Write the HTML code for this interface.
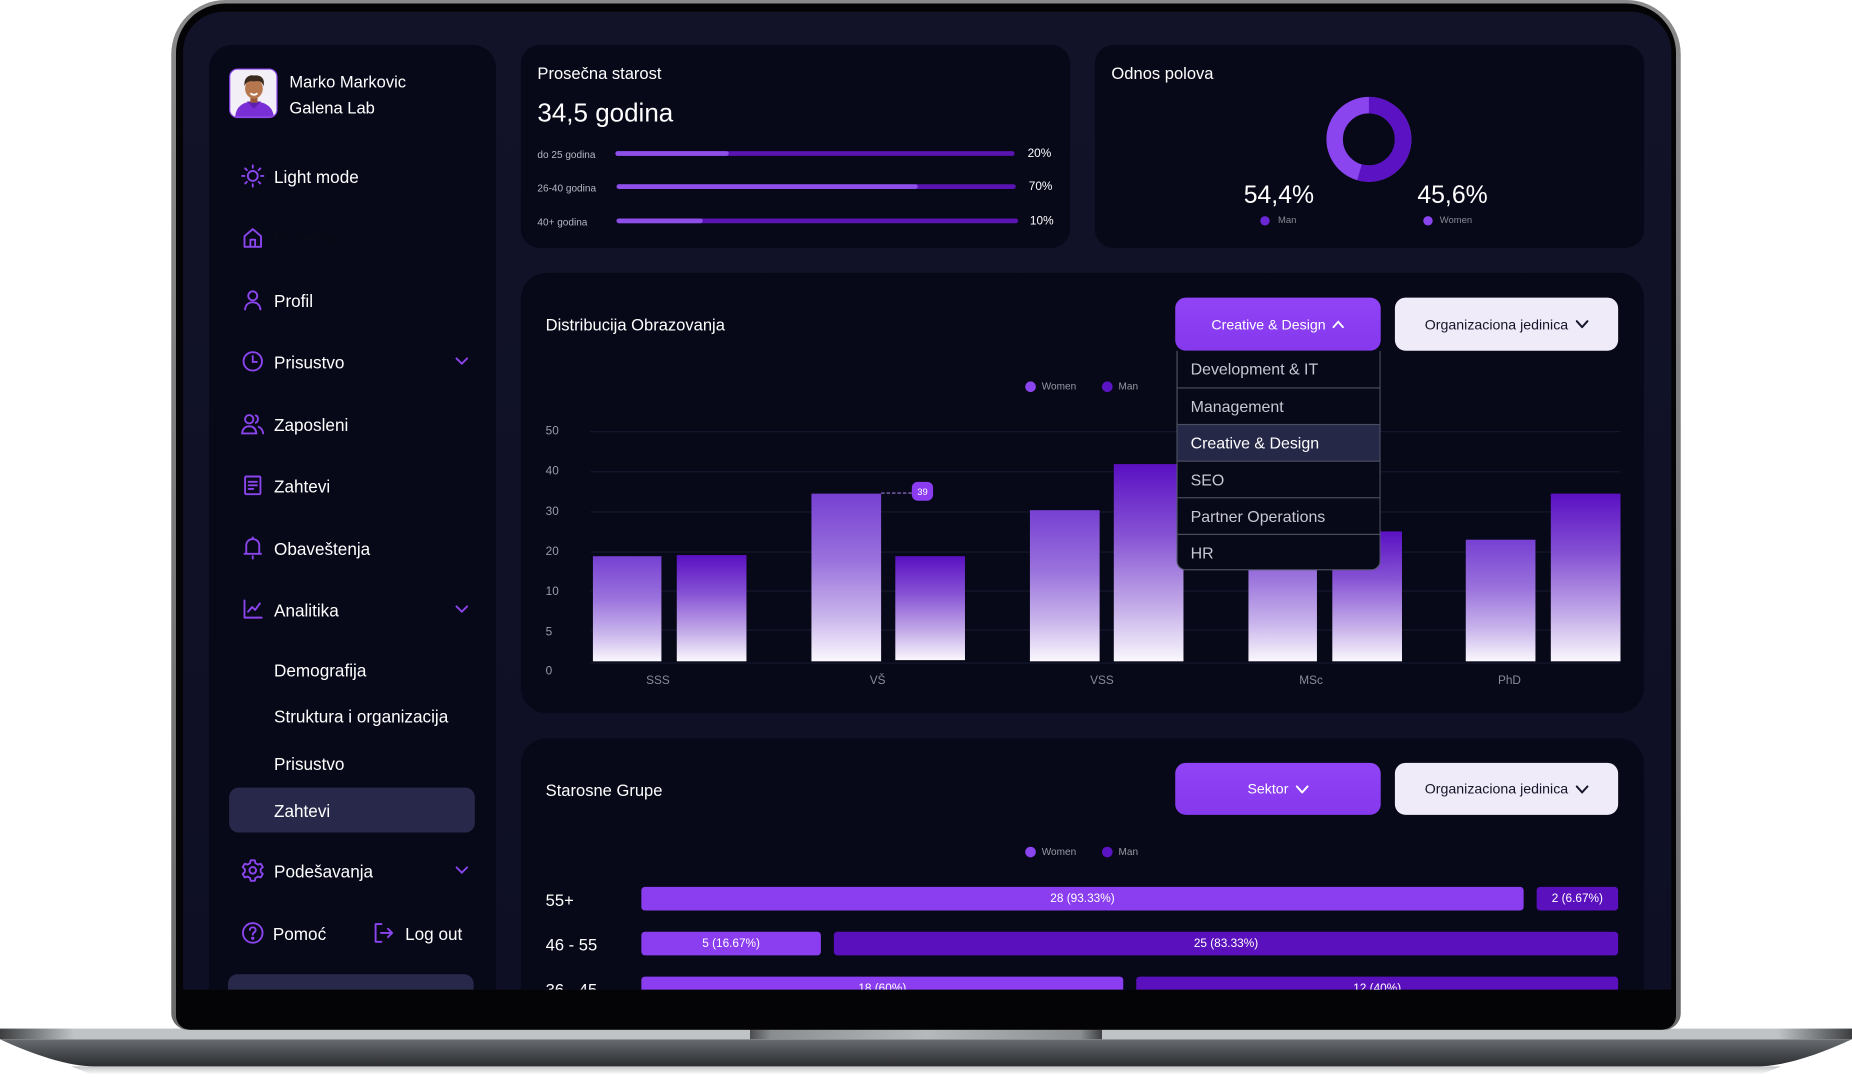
<!DOCTYPE html>
<html><head><meta charset="utf-8">
<style>
*{margin:0;padding:0;box-sizing:border-box}
html,body{width:1852px;height:1077px;overflow:hidden;background:#fff}
body{font-family:"Liberation Sans",Arial,sans-serif}
#wrap{position:absolute;left:0;top:0;width:1568px;height:912px;transform:scale(1.18112,1.18092);transform-origin:0 0}
.a{position:absolute}
.t{position:absolute;white-space:nowrap;line-height:1;color:#fff}
.card{position:absolute;background:#070818}
.btnp{position:absolute;background:linear-gradient(#9044f6,#8638ec);border-radius:9px;color:#fff;font-size:12px;display:flex;align-items:center;justify-content:center;gap:6px}
.btnl{position:absolute;background:#efebf9;border-radius:9px;color:#15152a;font-size:12px;display:flex;align-items:center;justify-content:center;gap:6px}
.bar{position:absolute}
.w{background:linear-gradient(to bottom,#7640d2 0%,#9a72dc 40%,#cab6ec 74%,#faf8fd 100%)}
.m{background:linear-gradient(to bottom,#5a10c2 0%,#8652d4 36%,#c3abe8 72%,#faf8fd 100%)}
.grid{position:absolute;left:500px;width:872px;height:1px;background:#16182e}
.yl{position:absolute;left:462px;font-size:10px;color:#9a9aa8;line-height:1}
.xl{position:absolute;font-size:10px;color:#8a8a98;line-height:1;transform:translateX(-50%)}
.hb{position:absolute;height:20px;border-radius:3px;color:#fff;font-size:10px;display:flex;align-items:center;justify-content:center}
.hw{background:#8a3ef0}
.hm{background:#5a10bc}
.dd{position:absolute;left:0;width:171px;height:31px;font-size:13.5px;color:#c8c8d2;padding-left:11px;display:flex;align-items:center;border-top:1.5px solid #4b4e60}
.ic{position:absolute}
</style></head><body>
<div id="wrap">
<!-- base -->
<svg class="a" style="left:0;top:860px" width="1568" height="52" viewBox="0 860 1568 52">
<defs>
<linearGradient id="bd" x1="0" y1="0" x2="0" y2="1"><stop offset="0" stop-color="#686c70"/><stop offset="1" stop-color="#2a2c2f"/></linearGradient>
<linearGradient id="bl" x1="0" y1="0" x2="1" y2="0"><stop offset="0" stop-color="#3c3e40"/><stop offset="0.04" stop-color="#bfc3c6"/><stop offset="0.96" stop-color="#bfc3c6"/><stop offset="1" stop-color="#3c3e40"/></linearGradient>
<linearGradient id="nt" x1="0" y1="0" x2="1" y2="0"><stop offset="0" stop-color="#4a4c4f"/><stop offset="0.06" stop-color="#8a8d90"/><stop offset="0.5" stop-color="#b5b9bb"/><stop offset="0.94" stop-color="#8a8d90"/><stop offset="1" stop-color="#3c3e40"/></linearGradient>
<linearGradient id="sh" x1="0" y1="0" x2="0" y2="1"><stop offset="0" stop-color="#9a9c9e"/><stop offset="1" stop-color="#ffffff"/></linearGradient>
</defs>
<path d="M60 903 L1508 903 L1490 910 L78 910 Z" fill="url(#sh)" opacity="0.6"/>
<path d="M0 880 L1568 880 C1540 893 1510 903 1488 903 L80 903 C58 903 28 893 0 880 Z" fill="url(#bd)"/>
<rect x="0" y="871" width="1568" height="9" fill="url(#bl)"/>
<rect x="635" y="871" width="298" height="9" fill="url(#nt)"/>
</svg>
<!-- laptop lid -->
<div class="a" style="left:145px;top:0;width:1278px;height:872px;border-radius:46px 46px 14px 14px;background:linear-gradient(#8a8a8a,#6a6a6a)"></div>
<div class="a" style="left:149px;top:3px;width:1270px;height:869px;border-radius:42px 42px 12px 12px;background:#040406"></div>
<!-- screen -->
<div class="a" style="left:155px;top:10px;width:1260px;height:828px;border-radius:34px 34px 0 0;overflow:hidden;background:linear-gradient(#121329,#0e0f25)">
<div class="a" style="left:-155px;top:-10px;width:1568px;height:912px">

<!-- sidebar -->
<div class="card" style="left:177px;top:38px;width:243px;height:840px;border-radius:20px"></div>
<div class="a" style="left:194px;top:58px;width:41px;height:42px;border-radius:7px;border:1.5px solid #8b45ee;background:#f3eff6;overflow:hidden">
<svg width="41" height="42" viewBox="0 0 41 42">
<path d="M4 42 C4 32 10 27 20 27 C30 27 37 32 37 42 Z" fill="#7a2fd6"/>
<path d="M14 27 L20 33 L26 27 Z" fill="#5e1fb0"/>
<rect x="17" y="22" width="6" height="6" fill="#9a5a38"/>
<ellipse cx="20" cy="16" rx="7.5" ry="8.5" fill="#b6764e"/>
<path d="M12 14 C11 6 17 4 20 5 C25 4 30 7 28 14 C27 10 24 9 20 10 C16 9 13 11 12 14 Z" fill="#3a2a1e"/>
<path d="M17 20 Q20 22.5 23 20" stroke="#fff" stroke-width="1.5" fill="none"/>
</svg></div>
<div class="t" style="left:245px;top:62px;font-size:14px">Marko Markovic</div>
<div class="t" style="left:245px;top:84px;font-size:14px">Galena Lab</div>

<!-- icons -->
<svg class="ic" style="left:204px;top:139px" width="20" height="20" viewBox="0 0 20 20" fill="none" stroke="#8b45ee" stroke-width="1.6" stroke-linecap="round"><circle cx="10" cy="10" r="4.2"/><path d="M10 1v2M10 17v2M1 10h2M17 10h2M3.6 3.6l1.4 1.4M15 15l1.4 1.4M3.6 16.4l1.4-1.4M15 5l1.4-1.4"/></svg>
<div class="t" style="left:232px;top:144px;font-size:14.5px">Light mode</div>
<svg class="ic" style="left:205px;top:192px" width="18" height="18" viewBox="0 0 18 18" fill="none" stroke="#8b45ee" stroke-width="1.6" stroke-linejoin="round"><path d="M2 8 L9 2 L16 8 V17 H2 Z"/><path d="M7 17 V11 H11 V17"/></svg>
<div class="t" style="left:232px;top:196px;font-size:14.5px;color:#0b0b16">Početna</div>
<svg class="ic" style="left:205px;top:245px" width="18" height="18" viewBox="0 0 18 18" fill="none" stroke="#8b45ee" stroke-width="1.6" stroke-linecap="round"><circle cx="9" cy="5.5" r="3.8"/><path d="M2.5 17 C3 12.5 6 11 9 11 C12 11 15 12.5 15.5 17"/></svg>
<div class="t" style="left:232px;top:249px;font-size:14.5px">Profil</div>
<svg class="ic" style="left:205px;top:297px" width="18" height="18" viewBox="0 0 18 18" fill="none" stroke="#8b45ee" stroke-width="1.6" stroke-linecap="round"><circle cx="9" cy="9" r="7.8"/><path d="M9 4.5 V9.5 H12.5"/></svg>
<div class="t" style="left:232px;top:301px;font-size:14.5px">Prisustvo</div>
<svg class="ic" style="left:385px;top:302px" width="12" height="8" viewBox="0 0 12 8" fill="none" stroke="#8b45ee" stroke-width="1.6" stroke-linecap="round"><path d="M1.5 1.5 L6 6 L10.5 1.5"/></svg>
<svg class="ic" style="left:204px;top:350px" width="20" height="18" viewBox="0 0 20 18" fill="none" stroke="#8b45ee" stroke-width="1.6" stroke-linecap="round"><circle cx="7" cy="5" r="3.5"/><path d="M1 17 C1.5 12.5 4 11 7 11 C10 11 12.5 12.5 13 17 Z"/><path d="M12.5 1.8 C15 2.5 15 7 12.5 8"/><path d="M15 11.5 C17.5 12.5 18.5 14.5 18.8 17"/></svg>
<div class="t" style="left:232px;top:354px;font-size:14.5px">Zaposleni</div>
<svg class="ic" style="left:205px;top:402px" width="18" height="18" viewBox="0 0 18 18" fill="none" stroke="#8b45ee" stroke-width="1.6" stroke-linecap="round"><rect x="2.5" y="1.5" width="13" height="15" rx="1"/><path d="M5.5 6h7M5.5 9h7M5.5 12h4"/></svg>
<div class="t" style="left:232px;top:406px;font-size:14.5px">Zahtevi</div>
<svg class="ic" style="left:205px;top:454px" width="18" height="20" viewBox="0 0 18 20" fill="none" stroke="#8b45ee" stroke-width="1.6" stroke-linecap="round" stroke-linejoin="round"><path d="M3.5 15 V8 C3.5 4.5 6 2.5 9 2.5 C12 2.5 14.5 4.5 14.5 8 V15 H3.5 Z M2 15 H16"/><path d="M9 1 V2.5 M9 17 V19"/></svg>
<div class="t" style="left:232px;top:459px;font-size:14.5px">Obaveštenja</div>
<svg class="ic" style="left:205px;top:507px" width="18" height="18" viewBox="0 0 18 18" fill="none" stroke="#8b45ee" stroke-width="1.6" stroke-linecap="round" stroke-linejoin="round"><path d="M2 1.5 V16 H16.5"/><path d="M5 11 L8.5 7 L11 9.5 L15 4"/></svg>
<div class="t" style="left:232px;top:511px;font-size:14.5px">Analitika</div>
<svg class="ic" style="left:385px;top:512px" width="12" height="8" viewBox="0 0 12 8" fill="none" stroke="#8b45ee" stroke-width="1.6" stroke-linecap="round"><path d="M1.5 1.5 L6 6 L10.5 1.5"/></svg>
<div class="t" style="left:232px;top:562px;font-size:14.5px">Demografija</div>
<div class="t" style="left:232px;top:601px;font-size:14.5px">Struktura i organizacija</div>
<div class="t" style="left:232px;top:641px;font-size:14.5px">Prisustvo</div>
<div class="a" style="left:194px;top:667px;width:208px;height:38px;border-radius:8px;background:#27284a"></div>
<div class="t" style="left:232px;top:681px;font-size:14.5px">Zahtevi</div>
<svg class="ic" style="left:204px;top:727px" width="20" height="20" viewBox="0 0 20 20" fill="none" stroke="#8b45ee" stroke-width="1.6" stroke-linejoin="round"><path d="M8.3 1.5h3.4l.6 2.4 2.1 1.2 2.4-.7 1.7 2.9-1.8 1.7v2.4l1.8 1.7-1.7 2.9-2.4-.7-2.1 1.2-.6 2.4H8.3l-.6-2.4-2.1-1.2-2.4.7-1.7-2.9 1.8-1.7V9l-1.8-1.7 1.7-2.9 2.4.7 2.1-1.2z"/><circle cx="10" cy="10" r="2.8"/></svg>
<div class="t" style="left:232px;top:732px;font-size:14.5px">Podešavanja</div>
<svg class="ic" style="left:385px;top:733px" width="12" height="8" viewBox="0 0 12 8" fill="none" stroke="#8b45ee" stroke-width="1.6" stroke-linecap="round"><path d="M1.5 1.5 L6 6 L10.5 1.5"/></svg>
<svg class="ic" style="left:204px;top:780px" width="20" height="20" viewBox="0 0 20 20" fill="none" stroke="#8b45ee" stroke-width="1.6" stroke-linecap="round"><circle cx="10" cy="10" r="8.3"/><path d="M7.5 7.5 C7.5 4.5 12.5 4.5 12.5 7.5 C12.5 9.5 10 9.5 10 11.5"/><circle cx="10" cy="14.5" r="0.6" fill="#8b45ee"/></svg>
<div class="t" style="left:231px;top:785px;font-size:14.5px">Pomoć</div>
<svg class="ic" style="left:316px;top:781px" width="18" height="18" viewBox="0 0 18 18" fill="none" stroke="#8b45ee" stroke-width="1.6" stroke-linecap="round" stroke-linejoin="round"><path d="M7 1.5 H2 V16.5 H7"/><path d="M6.5 9 H16 M12.5 5.5 L16 9 L12.5 12.5"/></svg>
<div class="t" style="left:343px;top:785px;font-size:14.5px">Log out</div>
<div class="a" style="left:193px;top:825px;width:208px;height:40px;border-radius:8px;background:#27284a"></div>

<!-- top-left card -->
<div class="card" style="left:441px;top:38px;width:465px;height:172px;border-radius:16px"></div>
<div class="t" style="left:455px;top:55px;font-size:14px">Prosečna starost</div>
<div class="t" style="left:455px;top:85px;font-size:22px">34,5 godina</div>
<div class="t" style="left:455px;top:127px;font-size:8.5px;color:#b8b8c4">do 25 godina</div>
<div class="a" style="left:521px;top:128px;width:338px;height:4px;border-radius:2px;background:#5a14b2"></div>
<div class="a" style="left:521px;top:128px;width:96px;height:4px;border-radius:2px;background:#8e4ee8"></div>
<div class="t" style="left:870px;top:126px;font-size:10px">20%</div>
<div class="t" style="left:455px;top:155px;font-size:8.5px;color:#b8b8c4">26-40 godina</div>
<div class="a" style="left:522px;top:156px;width:338px;height:4px;border-radius:2px;background:#5a14b2"></div>
<div class="a" style="left:522px;top:156px;width:255px;height:4px;border-radius:2px;background:#8e4ee8"></div>
<div class="t" style="left:871px;top:154px;font-size:10px">70%</div>
<div class="t" style="left:455px;top:184px;font-size:8.5px;color:#b8b8c4">40+ godina</div>
<div class="a" style="left:522px;top:185px;width:340px;height:4px;border-radius:2px;background:#5a14b2"></div>
<div class="a" style="left:522px;top:185px;width:73px;height:4px;border-radius:2px;background:#8e4ee8"></div>
<div class="t" style="left:872px;top:183px;font-size:10px">10%</div>

<!-- top-right card -->
<div class="card" style="left:927px;top:38px;width:465px;height:172px;border-radius:16px"></div>
<div class="t" style="left:941px;top:55px;font-size:14px">Odnos polova</div>
<svg class="a" style="left:1119px;top:78px" width="80" height="80" viewBox="0 0 80 80">
<circle cx="40" cy="40" r="29" fill="none" stroke="#8b45ee" stroke-width="14"/>
<path d="M40 11 A29 29 0 1 1 32 67.9" fill="none" stroke="#5b12c2" stroke-width="14"/>
</svg>
<div class="t" style="left:1053px;top:155px;font-size:21px">54,4%</div>
<div class="a" style="left:1067px;top:183px;width:8px;height:8px;border-radius:50%;background:#6a28d4"></div>
<div class="t" style="left:1082px;top:183px;font-size:8px;color:#8a8a96">Man</div>
<div class="t" style="left:1200px;top:155px;font-size:21px">45,6%</div>
<div class="a" style="left:1205px;top:183px;width:8px;height:8px;border-radius:50%;background:#8b45ee"></div>
<div class="t" style="left:1219px;top:183px;font-size:8px;color:#8a8a96">Women</div>

<!-- middle card -->
<div class="card" style="left:441px;top:231px;width:951px;height:373px;border-radius:22px"></div>
<div class="t" style="left:462px;top:268px;font-size:14px">Distribucija Obrazovanja</div>

<div class="a" style="left:868px;top:323px;width:9px;height:9px;border-radius:50%;background:#8b45ee"></div>
<div class="t" style="left:882px;top:323px;font-size:8.5px;color:#9a9aa6">Women</div>
<div class="a" style="left:933px;top:323px;width:9px;height:9px;border-radius:50%;background:#5b14c4"></div>
<div class="t" style="left:947px;top:323px;font-size:8.5px;color:#9a9aa6">Man</div>

<div class="grid" style="top:365px"></div>
<div class="grid" style="top:399px"></div>
<div class="grid" style="top:433px"></div>
<div class="grid" style="top:467px"></div>
<div class="grid" style="top:500px"></div>
<div class="grid" style="top:533px"></div>
<div class="grid" style="top:561px"></div>
<div class="yl" style="top:361px">50</div>
<div class="yl" style="top:395px">40</div>
<div class="yl" style="top:429px">30</div>
<div class="yl" style="top:463px">20</div>
<div class="yl" style="top:497px">10</div>
<div class="yl" style="top:531px">5</div>
<div class="yl" style="top:564px">0</div>

<div class="bar w" style="left:501.6px;top:470.5px;width:58.8px;height:89.5px"></div>
<div class="bar m" style="left:573.2px;top:470px;width:58.8px;height:90px"></div>
<div class="bar w" style="left:686.5px;top:418px;width:59.2px;height:142px"></div>
<div class="bar m" style="left:758px;top:471px;width:59px;height:88px"></div>
<div class="bar w" style="left:871.5px;top:432px;width:59px;height:128px"></div>
<div class="bar m" style="left:943px;top:392.6px;width:59px;height:167.4px"></div>
<div class="bar w" style="left:1056.7px;top:440px;width:58.6px;height:120px"></div>
<div class="bar m" style="left:1128.4px;top:450.4px;width:59px;height:109.6px"></div>
<div class="bar w" style="left:1241.3px;top:456.7px;width:59px;height:103.3px"></div>
<div class="bar m" style="left:1313.3px;top:417.7px;width:59px;height:142.3px"></div>

<div class="a" style="left:746px;top:417px;width:26px;height:0;border-top:1px dashed #9a7ad8"></div>
<div class="a" style="left:772px;top:408px;width:18px;height:16px;border-radius:5px;background:#8b3cf0;color:#fff;font-size:8px;display:flex;align-items:center;justify-content:center">39</div>

<div class="xl" style="left:557px;top:572px">SSS</div>
<div class="xl" style="left:743px;top:572px">VŠ</div>
<div class="xl" style="left:933px;top:572px">VSS</div>
<div class="xl" style="left:1110px;top:572px">MSc</div>
<div class="xl" style="left:1278px;top:572px">PhD</div>

<div class="btnp" style="left:995px;top:252px;width:174px;height:45px">Creative &amp; Design <svg width="10" height="7" viewBox="0 0 10 7" fill="none" stroke="#fff" stroke-width="1.6" stroke-linecap="round"><path d="M1 6 L5 1.5 L9 6"/></svg></div>
<div class="btnl" style="left:1181px;top:252px;width:189px;height:45px">Organizaciona jedinica <svg width="11" height="7" viewBox="0 0 11 7" fill="none" stroke="#15152a" stroke-width="1.7" stroke-linecap="round"><path d="M1 1 L5.5 6 L10 1"/></svg></div>

<div class="a" style="left:996px;top:297px;width:173px;height:186px;background:#070818;border:1px solid #565a6c;border-top:none;border-radius:0 0 8px 8px;overflow:hidden">
<div class="dd" style="top:0;border-top:none">Development &amp; IT</div>
<div class="dd" style="top:31px">Management</div>
<div class="dd" style="top:62px;background:#262848;color:#fff">Creative &amp; Design</div>
<div class="dd" style="top:93px">SEO</div>
<div class="dd" style="top:124px">Partner Operations</div>
<div class="dd" style="top:155px">HR</div>
</div>

<!-- bottom card -->
<div class="card" style="left:441px;top:625px;width:951px;height:280px;border-radius:22px"></div>
<div class="t" style="left:462px;top:662px;font-size:14px">Starosne Grupe</div>
<div class="btnp" style="left:995px;top:646px;width:174px;height:44px">Sektor <svg width="11" height="7" viewBox="0 0 11 7" fill="none" stroke="#fff" stroke-width="1.7" stroke-linecap="round"><path d="M1 1 L5.5 6 L10 1"/></svg></div>
<div class="btnl" style="left:1181px;top:646px;width:189px;height:44px">Organizaciona jedinica <svg width="11" height="7" viewBox="0 0 11 7" fill="none" stroke="#15152a" stroke-width="1.7" stroke-linecap="round"><path d="M1 1 L5.5 6 L10 1"/></svg></div>
<div class="a" style="left:868px;top:717px;width:9px;height:9px;border-radius:50%;background:#8b45ee"></div>
<div class="t" style="left:882px;top:717px;font-size:8.5px;color:#9a9aa6">Women</div>
<div class="a" style="left:933px;top:717px;width:9px;height:9px;border-radius:50%;background:#5b14c4"></div>
<div class="t" style="left:947px;top:717px;font-size:8.5px;color:#9a9aa6">Man</div>

<div class="t" style="left:462px;top:755px;font-size:14px">55+</div>
<div class="hb hw" style="left:543px;top:751px;width:747px">28 (93.33%)</div>
<div class="hb hm" style="left:1301px;top:751px;width:69px">2 (6.67%)</div>
<div class="t" style="left:462px;top:793px;font-size:14px">46 - 55</div>
<div class="hb hw" style="left:543px;top:789px;width:152px">5 (16.67%)</div>
<div class="hb hm" style="left:706px;top:789px;width:664px">25 (83.33%)</div>
<div class="t" style="left:462px;top:831px;font-size:14px">36 - 45</div>
<div class="hb hw" style="left:543px;top:827px;width:408px">18 (60%)</div>
<div class="hb hm" style="left:962px;top:827px;width:408px">12 (40%)</div>

</div>
</div>
</div>
</body></html>
